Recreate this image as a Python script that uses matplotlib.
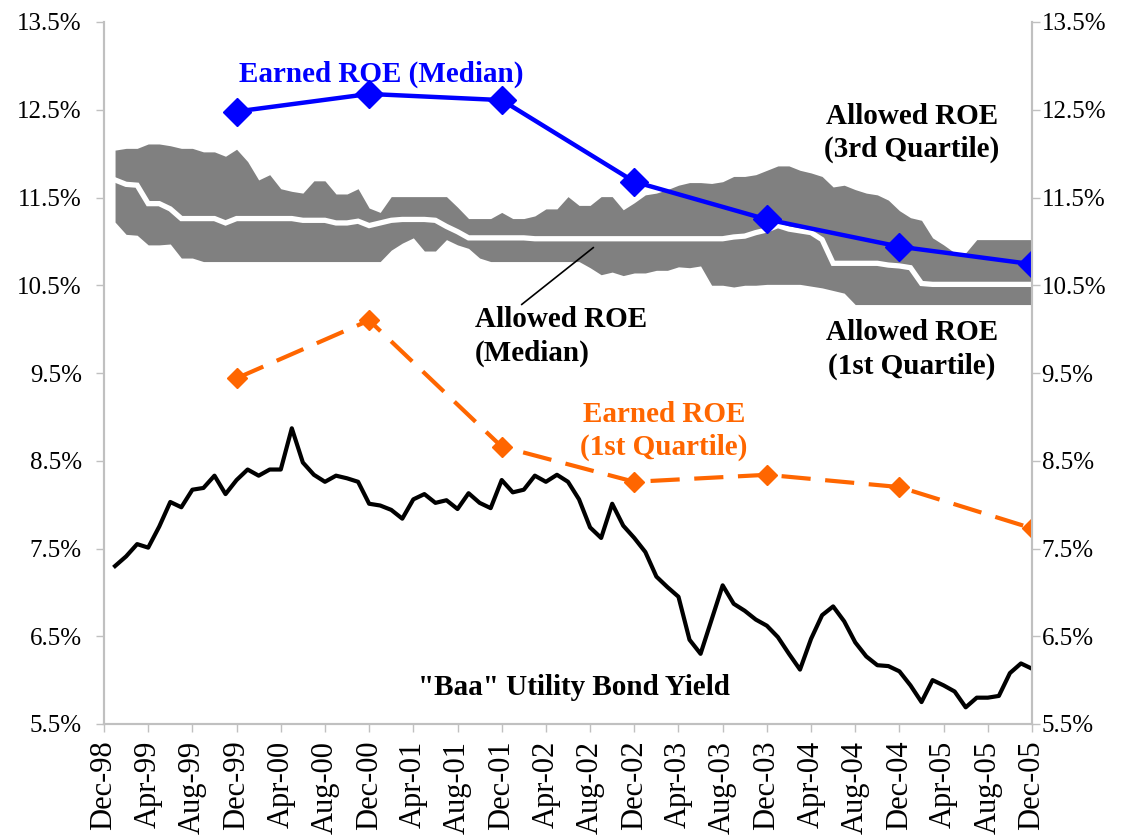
import numpy as np
import matplotlib
matplotlib.use("Agg")
import matplotlib.pyplot as plt

plt.rcParams['font.family'] = ['Liberation Serif', 'DejaVu Serif']

# ---- Data ----
tick_labels = ["Dec-98", "Apr-99", "Aug-99", "Dec-99", "Apr-00", "Aug-00", "Dec-00",
               "Apr-01", "Aug-01", "Dec-01", "Apr-02", "Aug-02", "Dec-02", "Apr-03",
               "Aug-03", "Dec-03", "Apr-04", "Aug-04", "Dec-04", "Apr-05", "Aug-05", "Dec-05"]

# monthly series Jan-99 .. Dec-05 (84 months); month 0 = Dec-98
baa_yield = [7.30, 7.41, 7.55, 7.51, 7.75, 8.03, 7.97, 8.17, 8.19, 8.33, 8.12, 8.28,
             8.40, 8.33, 8.40, 8.40, 8.87, 8.48, 8.34, 8.26, 8.33, 8.30, 8.26, 8.01,
             7.99, 7.94, 7.84, 8.06, 8.12, 8.02, 8.05, 7.95, 8.13, 8.02, 7.96, 8.28,
             8.14, 8.17, 8.33, 8.26, 8.34, 8.26, 8.06, 7.74, 7.62, 8.01, 7.76, 7.62,
             7.46, 7.18, 7.06, 6.95, 6.46, 6.30, 6.69, 7.08, 6.87, 6.79, 6.69, 6.62,
             6.49, 6.30, 6.12, 6.47, 6.74, 6.84, 6.67, 6.43, 6.27, 6.17, 6.16, 6.10,
             5.94, 5.75, 6.00, 5.94, 5.87, 5.69, 5.80, 5.80, 5.82, 6.08, 6.19, 6.13]

allowed_q3 = [12.04, 12.06, 12.06, 12.11, 12.11, 12.09, 12.06, 12.06, 12.02, 12.02, 11.97, 12.05,
              11.91, 11.70, 11.76, 11.60, 11.57, 11.55, 11.69, 11.69, 11.54, 11.54, 11.60, 11.38,
              11.33, 11.51, 11.51, 11.51, 11.51, 11.51, 11.51, 11.39, 11.26, 11.26, 11.26, 11.33,
              11.26, 11.26, 11.29, 11.37, 11.37, 11.51, 11.41, 11.41, 11.51, 11.51, 11.36, 11.44,
              11.53, 11.55, 11.59, 11.64, 11.67, 11.67, 11.66, 11.68, 11.74, 11.74, 11.76, 11.81,
              11.86, 11.86, 11.81, 11.78, 11.74, 11.62, 11.64, 11.59, 11.55, 11.53, 11.47, 11.35,
              11.27, 11.24, 11.04, 10.96, 10.87, 10.87, 11.02, 11.02, 11.02, 11.02, 11.02, 11.02]

allowed_median = [11.70, 11.65, 11.64, 11.43, 11.43, 11.37, 11.26, 11.26, 11.26, 11.26, 11.21, 11.26,
                  11.26, 11.26, 11.26, 11.26, 11.26, 11.24, 11.24, 11.24, 11.21, 11.21, 11.23, 11.18,
                  11.21, 11.24, 11.25, 11.25, 11.25, 11.24, 11.17, 11.11, 11.04, 11.04, 11.04, 11.04,
                  11.04, 11.04, 11.03, 11.03, 11.03, 11.03, 11.03, 11.03, 11.03, 11.03, 11.03, 11.03,
                  11.03, 11.03, 11.03, 11.03, 11.03, 11.03, 11.03, 11.03, 11.05, 11.06, 11.10, 11.13,
                  11.18, 11.14, 11.12, 11.10, 11.02, 10.75, 10.75, 10.75, 10.75, 10.75, 10.73, 10.72,
                  10.70, 10.52, 10.51, 10.51, 10.51, 10.51, 10.51, 10.51, 10.51, 10.51, 10.51, 10.51]

allowed_q1 = [11.22, 11.08, 11.07, 10.96, 10.96, 10.97, 10.81, 10.81, 10.77, 10.77, 10.77, 10.77,
              10.77, 10.77, 10.77, 10.77, 10.77, 10.77, 10.77, 10.77, 10.77, 10.77, 10.77, 10.77,
              10.77, 10.90, 10.98, 11.04, 10.89, 10.89, 11.02, 10.96, 10.92, 10.81, 10.77, 10.77,
              10.77, 10.77, 10.77, 10.77, 10.77, 10.77, 10.77, 10.70, 10.62, 10.65, 10.61, 10.64,
              10.64, 10.67, 10.67, 10.71, 10.70, 10.72, 10.50, 10.50, 10.48, 10.50, 10.50, 10.51,
              10.51, 10.51, 10.51, 10.49, 10.47, 10.44, 10.41, 10.28, 10.28, 10.28, 10.28, 10.28,
              10.28, 10.28, 10.28, 10.28, 10.28, 10.28, 10.28, 10.28, 10.28, 10.28, 10.28, 10.28]

earned_months = [12, 24, 36, 48, 60, 72, 84]   # Dec-99 .. Dec-05
earned_median = [12.48, 12.68, 12.61, 11.68, 11.25, 10.94, 10.74]
earned_q1 = [9.44, 10.10, 8.66, 8.26, 8.34, 8.20, 7.73]

yticks = [5.5, 6.5, 7.5, 8.5, 9.5, 10.5, 11.5, 12.5, 13.5]

# ---- Plot ----
months = np.arange(1, len(baa_yield) + 1)
fig = plt.figure(figsize=(11.25, 8.36), dpi=100)
ax = fig.add_axes([104 / 1125, 1 - 724 / 836, (1032 - 104) / 1125, (724 - 22) / 836])

axis_gray = '#c0c0c0'
ax.fill_between(months, allowed_q1, allowed_q3, color='#808080', lw=0, zorder=1)
ax.plot(months, allowed_median, color='white', lw=3.8, zorder=2, solid_joinstyle='miter')
ax.plot(months, baa_yield, color='black', lw=3.0, zorder=3)
ax.plot(earned_months, earned_q1, color='#FF6600', lw=3.0, dashes=(7, 3.5),
        marker='D', markersize=10, zorder=4)
ax.plot(earned_months, earned_median, color='#0000FF', lw=3.2,
        marker='D', markersize=14, zorder=5)

ax.set_xlim(0, 84)
ax.set_ylim(5.5, 13.5)
ax.set_xticks(range(0, 85, 4))
ax.set_xticklabels(tick_labels, rotation=90, fontsize=22)
ax.set_yticks(yticks)
ax.set_yticklabels([f"{v:.1f}%" for v in yticks], fontsize=18)
ax.tick_params(axis='y', left=True, right=False, labelleft=True, labelright=False,
               direction='out', length=6, width=1, color=axis_gray, pad=10)
ax.tick_params(axis='x', direction='out', length=6, width=1, color=axis_gray, pad=6)

ax2 = ax.twinx()
ax2.set_ylim(5.5, 13.5)
ax2.set_yticks(yticks)
ax2.set_yticklabels([f"{v:.1f}%" for v in yticks], fontsize=18)
ax2.tick_params(axis='y', direction='out', length=6, width=1, color=axis_gray, pad=1)

for a in (ax, ax2):
    for side in ['left', 'right', 'bottom']:
        a.spines[side].set_color(axis_gray)
        a.spines[side].set_linewidth(1.5)
    a.spines['top'].set_visible(False)

bold = dict(fontsize=21, fontweight='bold', linespacing=1.3)
ax.text(25.1, 12.90, "Earned ROE (Median)", color='#0000FF', ha='center', va='center', **bold)
ax.text(73.1, 12.235, "Allowed ROE\n(3rd Quartile)", color='black', ha='center', va='center', **bold)
ax.text(33.6, 9.916, "Allowed ROE\n(Median)", color='black', ha='left', va='center', **bold)
ax.text(73.1, 9.768, "Allowed ROE\n(1st Quartile)", color='black', ha='center', va='center', **bold)
ax.text(50.7, 8.839, "Earned ROE\n(1st Quartile)", color='#FF6600', ha='center', va='center', **bold)
ax.text(42.5, 5.92, "\"Baa\" Utility Bond Yield", color='black', ha='center', va='center', **bold)
ax.annotate("", xy=(44.5, 10.95), xytext=(37.6, 10.26),
            arrowprops=dict(arrowstyle='-', color='black', lw=1.2), zorder=6)

fig.savefig("out.png", dpi=100)
